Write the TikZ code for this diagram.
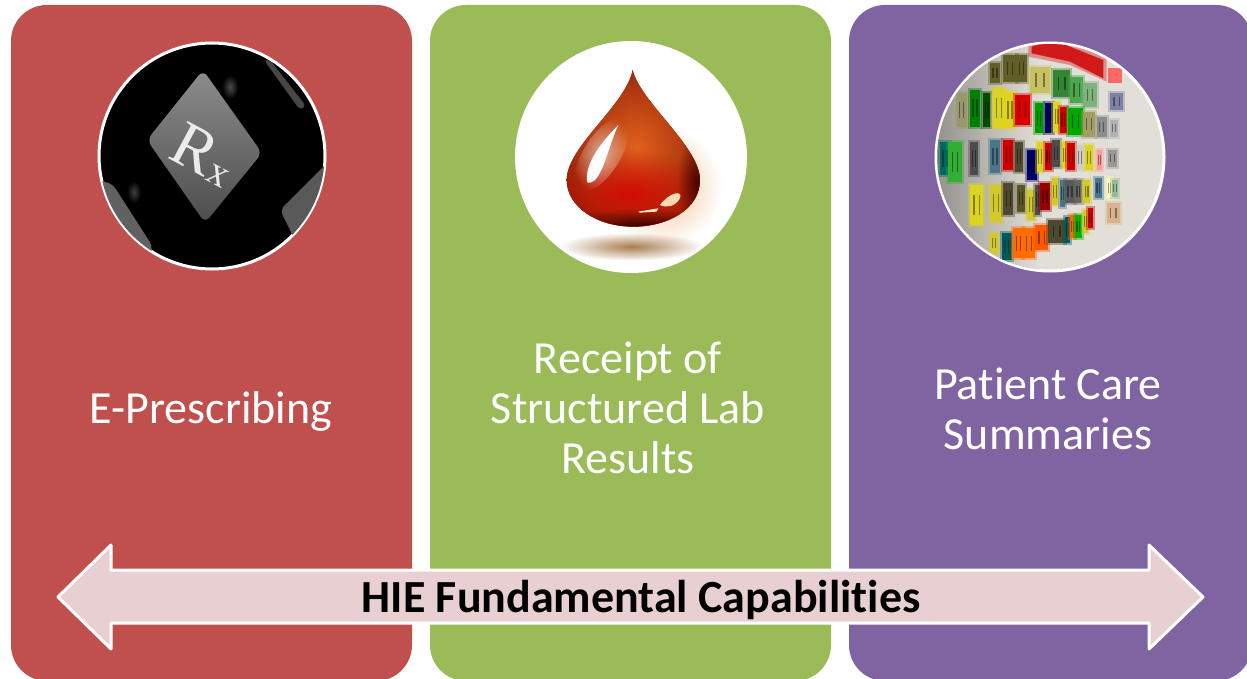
\documentclass[tikz,border=0pt]{standalone}
\usepackage{fontspec}
\setmainfont[Ligatures=NoCommon]{Carlito}
\newfontfamily\serifkey{Liberation Serif}
\definecolor{cardred}{HTML}{C0504D}
\definecolor{cardgreen}{HTML}{9BBB59}
\definecolor{cardpurple}{HTML}{8064A2}
\definecolor{arrowpink}{HTML}{E8D0D2}
\definecolor{dropdark}{HTML}{8A1A05}
\definecolor{dropmid}{HTML}{E0601C}
\definecolor{wallgrey}{HTML}{E2DFD8}
\usetikzlibrary{calc,fadings}
\tikzfading[name=softedge,inner color=transparent!0,middle color=transparent!25,outer color=transparent!100]
\tikzset{
  card/.style={rounded corners=36pt},
  disc/.style={circle,inner sep=0pt,draw=white,line width=3pt},
  label/.style={text=white,font=\fontsize{46}{50}\selectfont,align=center},
  fuzzy/.style={path fading=softedge}
}
\newcommand{\tilefill}[5]{%
  \fill[#5,opacity=.4] ($(#1,#2)+(-6,-6)$) rectangle ++($(#3,#4)+(12,12)$);
  \fill[#5] (#1,#2) rectangle ++(#3,#4);
  \draw[black,opacity=.4,line width=1.2pt] ($(#1,#2)+(.3*#3,.25*#4)$) -- ++(0,.5*#4) ($(#1,#2)+(.7*#3,.25*#4)$) -- ++(0,.5*#4);
}
\begin{document}
\begin{tikzpicture}[x=1pt,y=-1pt]
\useasboundingbox (0,0) rectangle (1247,679);
\fill[white] (0,0) rectangle (1247,679);
% cards
\begin{scope}
\clip (0,0) rectangle (1247,679);
\fill[cardred,card] (11,5) rectangle (412,681);
\fill[cardgreen,card] (430,5) rectangle (831,681);
\fill[cardpurple,card] (849,5) rectangle (1252,681);
\end{scope}
% ---- Rx picture
\node[disc,fill=black,minimum size=226pt] (rxdisc) at (212,156) {};
\begin{scope}
\clip (212,156) circle (112.5pt);
\shade[top color=black!45,bottom color=black!70,rounded corners=7pt]
  (203,70) -- (262,153) -- (205,223) -- (147,140) -- cycle;
\fill[black!62,rounded corners=10pt] (95,183) -- (110,180) -- (155,250) -- (140,270) -- (95,270) -- cycle;
\fill[black!65,rounded corners=6pt] (280,210) -- (330,160) -- (330,215) -- (295,240) -- cycle;
\fill[black!72,rounded corners=4pt] (264,60) -- (270,60) -- (306,106) -- (300,110) -- cycle;
\fill[black!70,fuzzy] (230,87) ellipse (8pt and 12pt);
\fill[black!75,fuzzy] (134,192) ellipse (7pt and 11pt);
\node[text=black!8,font=\serifkey\fontsize{64}{64}\selectfont,rotate=-28,inner sep=0pt] (rxtext) at (204,155)
  {R\kern1pt\raisebox{-2pt}{\fontsize{40}{40}\selectfont x}};
\end{scope}
% ---- Drop picture
\node[disc,fill=white,draw=none,minimum size=232pt] (dropdisc) at (631,157) {};
\begin{scope}[shift={(500,30)},x=.3333pt,y=-.3333pt]
\fill[brown!80!black,opacity=.85,fuzzy] (395,650) ellipse (215 and 42);
\fill[orange!60!brown,opacity=.5,fuzzy] (490,470) ellipse (175 and 175);
\begin{scope}
\path[clip] (398,120) .. controls (420,215) and (600,350) .. (600,450) .. controls (600,540) and (500,590) .. (400,590) .. controls (290,590) and (200,530) .. (200,450) .. controls (200,350) and (378,225) .. (398,120) -- cycle;
\fill[dropdark] (100,100) rectangle (700,700);
\shade[inner color=dropmid,outer color=dropdark] (410,350) ellipse (270 and 300);
\fill[red!85!black,opacity=.8,fuzzy] (390,490) ellipse (240 and 130);
\fill[black!55!red!60!black,opacity=.9,fuzzy] (590,460) ellipse (60 and 150);
\fill[black!60!red!50!black,opacity=.95,fuzzy] (420,590) ellipse (260 and 55);
\fill[white,opacity=.55,fuzzy,rotate around={-32:(305,375)}] (305,375) ellipse (55 and 125);
\fill[white] (355,285) .. controls (315,325) and (250,400) .. (262,458) .. controls (305,465) and (320,360) .. (355,285) -- cycle;
\fill[orange!30!white] (480,525) .. controls (510,485) and (550,480) .. (540,505) .. controls (525,530) and (500,535) .. (480,525) -- cycle;
\fill[orange!20!white] (415,545) -- (475,535) -- (470,545) -- (420,548) -- cycle;
\end{scope}
\end{scope}
% ---- Chart picture
\node[disc,fill=wallgrey,minimum size=228pt] (chartdisc) at (1050,157) {};
\begin{scope}
\clip (1050,157) circle (113pt);
\shade[left color=black!35!wallgrey,right color=wallgrey] (935,40) rectangle (1040,275);
\begin{scope}[shift={(920,30)},x=.3333pt,y=-.3333pt]
\fill[red!80!black!90,opacity=.4] (325,40) -- (400,20) -- (560,80) -- (560,155) -- (450,105) -- (325,80) -- cycle;
\fill[red!80!black!90] (335,50) -- (400,30) -- (550,90) -- (550,145) -- (450,95) -- (335,70) -- cycle;
\fill[red!70!white,opacity=.8] (565,115) rectangle (605,160);
\foreach \tx/\ty/\tw/\th/\tc in {
 210/100/30/60/olive!60!black, 250/75/40/80/olive!60!black, 290/75/30/80/olive!60!black,
 330/110/60/80/olive!50!white, 400/120/50/80/green!40!black!80, 450/140/40/80/green!50!black!70, 490/160/40/70/green!40!black!50,
 570/190/40/50/blue!30!black!50,
 110/190/30/100/olive!50!black!60, 150/180/30/110/green!50!black, 190/190/20/100/green!30!black,
 220/175/35/120/yellow!85!black, 255/185/30/110/yellow!85!black, 285/195/45/90/red!85!black,
 345/220/25/90/green!60!black, 375/220/25/90/blue!40!black, 400/215/20/90/yellow!85!black, 420/230/20/80/red!80!black,
 445/235/45/80/green!65!black, 490/245/35/75/olive!60!black!60, 530/260/30/60/black!45, 570/270/25/50/black!30,
 60/335/30/100/teal!80!black, 85/335/40/120/green!60!black!80, 150/335/25/100/black!70, 210/330/30/100/cyan!50!black,
 250/330/30/90/red!80!black, 285/335/25/90/olive!40!black, 320/360/30/90/blue!40!black, 350/335/20/90/yellow!85!black,
 375/340/20/80/red!80!black, 395/330/25/80/black!70, 425/335/15/80/yellow!85!black, 440/340/25/80/red!80!black,
 470/345/20/75/black!20, 495/345/25/75/yellow!85!black, 530/360/15/60/red!40!white, 565/360/25/50/black!40,
 150/465/40/120/yellow!85!black, 210/465/35/110/yellow!80!black, 250/460/30/95/olive!40!black, 290/465/25/80/olive!50!black,
 320/480/25/90/yellow!80!black, 345/465/15/90/black!70, 360/460/30/80/red!60!black, 395/445/20/80/yellow!80!black,
 420/450/15/80/cyan!50!black, 435/450/30/70/black!65, 465/450/20/70/black!60, 490/450/20/70/yellow!80!black,
 525/445/20/60/cyan!50!black, 560/445/15/60/yellow!30!white, 575/450/20/50/green!30!black!40,
 210/610/25/60/yellow!80!black, 245/610/30/80/teal!70!black, 280/595/30/90/orange!85!red, 310/595/35/90/orange!85!red,
 345/585/40/75/orange!70!red, 385/570/50/70/olive!40!black, 435/560/15/80/teal!70!black, 450/555/15/70/orange!80!red,
 465/555/20/70/green!70!black, 490/540/15/70/yellow!80!black, 505/535/15/60/red!80!black, 560/520/40/60/brown!60!white}{
  \tilefill{\tx}{\ty}{\tw}{\th}{\tc}
}
\end{scope}
\end{scope}
% ---- labels
\node[label] (eprescribing) at (211,411) {E-Prescribing};
\node[label] (labresults) at (628,408) {Receipt of\\Structured Lab\\Results};
\node[label] (summaries) at (1048,409) {Patient Care\\Summaries};
% ---- double arrow
\filldraw[fill=arrowpink,draw=white,line width=3pt,line join=round]
  (58,597) -- (111,545) -- (111,570) -- (1149,570) -- (1149,545) -- (1203,597)
  -- (1149,649) -- (1149,623) -- (111,623) -- (111,649) -- cycle;
\node[text=black,font=\bfseries\fontsize{46}{50}\selectfont] (capabilities) at (641,600) {HIE Fundamental Capabilities};
\end{tikzpicture}
\end{document}
